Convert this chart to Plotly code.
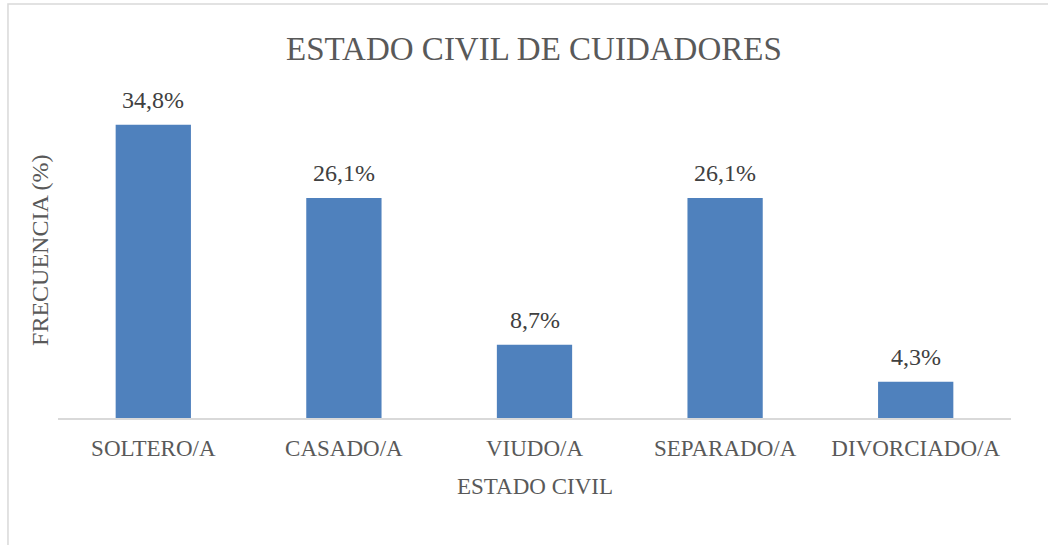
import plotly.graph_objects as go

categories = ["SOLTERO/A", "CASADO/A", "VIUDO/A", "SEPARADO/A", "DIVORCIADO/A"]
values = [34.8, 26.1, 8.7, 26.1, 4.3]
labels = ["34,8%", "26,1%", "8,7%", "26,1%", "4,3%"]

FONT = "Liberation Serif"
GREY = "#595959"

fig = go.Figure(go.Bar(
    x=categories, y=values,
    marker=dict(color="#4F81BD", line=dict(width=0)),
    width=0.395, hoverinfo="skip",
))

annotations = [
    dict(x=c, y=v, text=t, xref="x", yref="y", showarrow=False,
         yanchor="bottom", yshift=10,
         font=dict(family=FONT, size=24, color="#404040"))
    for c, v, t in zip(categories, values, labels)
]
annotations.append(dict(text="ESTADO CIVIL", xref="paper", yref="paper", x=0.5, y=-0.202,
                        xanchor="center", yanchor="middle", showarrow=False,
                        font=dict(family=FONT, size=23, color=GREY)))
annotations.append(dict(text="FRECUENCIA (%)", xref="paper", yref="paper", x=-0.019, y=0.4985,
                        xanchor="center", yanchor="middle", showarrow=False, textangle=-90,
                        font=dict(family=FONT, size=24, color=GREY)))

fig.update_layout(
    width=1048, height=545,
    paper_bgcolor="white", plot_bgcolor="white",
    margin=dict(l=58, r=37, t=81, b=127),
    showlegend=False,
    title=dict(text="ESTADO CIVIL DE CUIDADORES", x=0.5095, xanchor="center",
               y=0.912, yanchor="middle",
               font=dict(family=FONT, size=33, color=GREY)),
    xaxis=dict(showline=True, linecolor="#D9D9D9", linewidth=2,
               ticks="", ticklabelstandoff=8,
               tickfont=dict(family=FONT, size=23, color=GREY)),
    yaxis=dict(range=[0, 40], showgrid=False, showticklabels=False, zeroline=False),
    annotations=annotations,
    shapes=[dict(type="rect", xref="paper", yref="paper", x0=-0.0525, x1=1.2, y0=-0.5, y1=1.2285,
                 line=dict(color="#D9D9D9", width=1.5))],
)

fig.write_html("out.html", config={"displayModeBar": False},
               post_script="document.body.style.margin='0';")
